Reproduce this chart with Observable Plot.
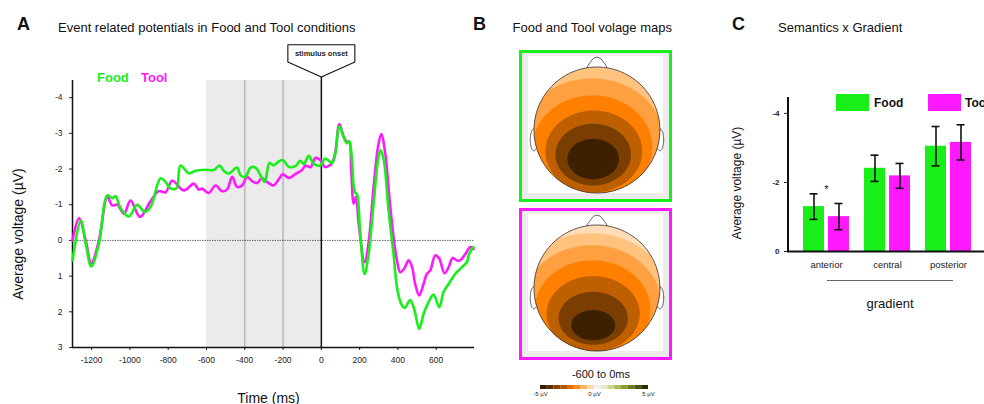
<!DOCTYPE html>
<html><head><meta charset="utf-8">
<script src="https://cdn.jsdelivr.net/npm/d3@7"></script>
<script src="https://cdn.jsdelivr.net/npm/@observablehq/plot@0.6"></script>
<style>
body{margin:0;background:#fff}
#root{position:relative;width:984px;height:404px;overflow:hidden;font-family:"Liberation Sans",Arial,Helvetica,sans-serif;color:#111;background:#fff}
</style></head>
<body><div id="root"></div>
<script>
// ---------------- DATA ----------------
const GREEN = "#18ee18", MAGENTA = "#ff19ff";
// Panel A : ERP waveforms (ms, µV)
const foodTime = [-1300,-1257,-1231,-1202,-1162,-1118,-1092,-1075,-1049,-1005,-962,-923,-892,-840,-814,-788,-757,-736,-692,-657,-605,-562,-532,-510,-484,-440,-423,-397,-370,-344,-318,-296,-271,-249,-231,-202,-170,-136,-110,-92,-66,-40,-5,17,30,56,73,94,116,134,146,160,174,186,203,226,247,273,296,310,326,351,377,395,417,435,464,487,511,534,560,586,616,638,665,699,734,760,772,795];
const foodVolt = [0.56,-0.56,0.09,0.73,0.09,-1.26,-1.18,-1.24,-0.90,-0.67,-1.00,-0.80,-0.94,-1.74,-1.64,-1.46,-1.46,-2.10,-1.88,-1.95,-1.98,-1.97,-2.10,-1.95,-1.87,-2.04,-1.83,-1.78,-2.04,-2.04,-1.83,-1.64,-2.17,-2.10,-2.18,-2.25,-2.06,-2.08,-2.23,-2.14,-2.37,-2.15,-2.10,-2.29,-2.27,-2.17,-2.43,-3.20,-2.90,-2.72,-2.78,-2.25,-1.36,-1.29,-0.19,0.94,0.37,-1.03,-2.25,-2.53,-2.25,-0.84,0.37,1.31,1.78,1.89,1.67,1.97,2.48,2.06,1.73,1.52,1.87,1.45,1.22,0.94,0.75,0.61,0.37,0.19];
const toolTime = [-1300,-1266,-1231,-1202,-1162,-1118,-1092,-1066,-1031,-997,-948,-892,-849,-814,-779,-718,-666,-640,-623,-588,-553,-518,-492,-466,-440,-414,-388,-362,-336,-310,-284,-249,-223,-202,-170,-136,-101,-83,-57,-31,-5,17,30,56,73,94,116,134,146,156,169,181,195,226,247,273,296,313,334,355,377,395,412,433,456,474,490,511,534,551,569,595,616,643,665,686,708,725,751,777,795];
const toolVolt = [0.0,-0.62,0.0,0.64,0.0,-1.22,-0.98,-1.00,-0.75,-1.12,-0.66,-1.10,-1.38,-1.35,-1.67,-1.40,-1.59,-1.42,-1.45,-1.33,-1.54,-1.38,-1.43,-1.78,-1.50,-1.54,-1.78,-1.66,-1.61,-1.74,-1.64,-1.54,-1.71,-1.85,-1.75,-1.86,-1.97,-2.10,-2.05,-2.31,-2.25,-2.06,-2.06,-2.17,-2.48,-3.26,-2.92,-2.76,-2.76,-1.97,-1.03,-1.22,-0.47,0.61,0.05,-1.50,-2.62,-2.98,-2.43,-1.22,-0.09,0.56,0.89,0.79,0.56,0.75,1.22,1.54,1.22,0.94,0.84,0.42,0.51,0.92,0.75,0.49,0.56,0.56,0.39,0.19,0.24];
const timeDomain = [-1300, 800];
const timeTicks = [-1200,-1000,-800,-600,-400,-200,0,200,400,600];
const voltDomain = [3, -4.48];
const voltTicks = [-4,-3,-2,-1,0,1,2,3];
const baselineWindow = [{start: -600, end: 0}];
const innerGrid = [-400, -200];
const onsetTime = 0;

// Panel B : topographic maps (head units; ellipse bands, outer -> inner)
const bandColors = ["#ffc27f", "#ffa040", "#ff8000", "#bf6000", "#7a3f00", "#3d2000"];
const headColor = "#ffdcb8";
const foodBands = [[-0.12,0.20,1.40,1.20],[-0.08,0.18,1.15,1.00],[-0.07,0.27,0.95,0.82],[-0.05,0.34,0.77,0.65],[-0.06,0.39,0.60,0.49],[-0.06,0.46,0.41,0.32]];
const toolBands = [[-0.10,0.23,1.30,1.10],[-0.08,0.27,1.10,0.95],[-0.07,0.34,0.92,0.78],[-0.06,0.41,0.74,0.60],[-0.06,0.48,0.55,0.42],[-0.06,0.59,0.35,0.24]];
const mapX = [-1.23, 1.2];
const mapY = [-1.262, 1.15];
const scaleColors = ["#3a1d00","#5c2e00","#8a4600","#b35a00","#e07000","#ff8c1a","#ffb366","#ffd9b3","#f2f2f2","#e6ebc7","#cdd68f","#b0b857","#8f9a2a","#6f7a16","#4d540b","#2a2e05"];
const scaleDomain = [-5, 5];
const scaleTicks = [-5, 0, 5];

// Panel C : Semantics x Gradient
const gradients = ["anterior", "central", "posterior"];
const foodMean = [-1.30, -2.41, -3.05];
const foodErr  = [0.37, 0.38, 0.57];
const toolMean = [-1.01, -2.19, -3.16];
const toolErr  = [0.38, 0.36, 0.51];
const significant = ["anterior"];
const cDomain = [0, -4.46];
const cTicks = [-4, -2, 0];

// ---------------- HELPERS ----------------
const FONT = '"Liberation Sans", Arial, Helvetica, sans-serif';
const root = document.getElementById("root");
function place(node, left, top) {
  const w = document.createElement("div");
  w.style.cssText = `position:absolute;left:${left}px;top:${top}px;`;
  w.appendChild(node); root.appendChild(w);
}
function label(text, x, y, {size = 13, weight = "normal", color = "#111", anchor = "start", rotate = 0} = {}) {
  const d = document.createElement("div");
  d.textContent = text;
  const tx = anchor === "middle" ? "-50%" : anchor === "end" ? "-100%" : "0";
  d.style.cssText = `position:absolute;left:${x}px;top:${y}px;font-size:${size}px;font-weight:${weight};color:${color};white-space:nowrap;line-height:1;transform:translate(${tx},-50%) rotate(${rotate}deg);`;
  root.appendChild(d);
}
const baseStyle = {fontFamily: FONT, background: "transparent", overflow: "visible", maxWidth: "none", color: "#222"};

// ---------------- PANEL A ----------------
const foodERP = foodTime.map((t, i) => ({t, v: foodVolt[i]}));
const toolERP = toolTime.map((t, i) => ({t, v: toolVolt[i]}));
const calloutTip = -4.58, calloutShoulder = -5.0, calloutTop = -5.48, calloutHalf = 175;
const callout = [
  {t: onsetTime - calloutHalf, v: calloutTop}, {t: onsetTime + calloutHalf, v: calloutTop},
  {t: onsetTime + calloutHalf, v: calloutShoulder}, {t: onsetTime, v: calloutTip},
  {t: onsetTime - calloutHalf, v: calloutShoulder}, {t: onsetTime - calloutHalf, v: calloutTop}
];
const A = Plot.plot({
  width: 490, height: 404, marginLeft: 72, marginRight: 16, marginTop: 80, marginBottom: 57,
  style: {...baseStyle, fontSize: "8.5px"},
  x: {domain: timeDomain, ticks: timeTicks, tickSize: 3, tickPadding: 6, tickFormat: d => String(d), label: null},
  y: {domain: voltDomain, ticks: voltTicks, tickSize: 3, tickPadding: 7, tickFormat: d => String(d), label: null},
  marks: [
    Plot.rect(baselineWindow, {x1: "start", x2: "end", y1: voltDomain[0], y2: voltDomain[1], fill: "#ebebeb"}),
    Plot.ruleX(innerGrid, {y1: voltDomain[0], y2: voltDomain[1], stroke: "#b8b8b8", strokeWidth: 1.5}),
    Plot.ruleY([0], {stroke: "#444", strokeWidth: 0.8, strokeDasharray: "1.5,1"}),
    Plot.ruleX([onsetTime], {y1: voltDomain[0], y2: calloutTip, stroke: "#111", strokeWidth: 1.5}),
    Plot.ruleX([timeDomain[0]], {y1: voltDomain[0], y2: voltDomain[1], stroke: "#111", strokeWidth: 1.5}),
    Plot.ruleY([voltDomain[0]], {stroke: "#111", strokeWidth: 1.5}),
    Plot.line(toolERP, {x: "t", y: "v", stroke: MAGENTA, strokeWidth: 2.6, curve: "catmull-rom"}),
    Plot.line(foodERP, {x: "t", y: "v", stroke: GREEN, strokeWidth: 2.6, curve: "catmull-rom"}),
    Plot.line(callout, {x: "t", y: "v", fill: "white", stroke: "#111", strokeWidth: 1.1}),
    Plot.text([{t: onsetTime, v: (calloutTop + calloutShoulder) / 2, s: "stimulus onset"}], {x: "t", y: "v", text: "s", fontSize: 7.5, fontWeight: "bold", fill: "#222"})
  ]
});
place(A, 0, 0);

// ---------------- PANEL B ----------------
function bandPolygon(id, [cx, cy, rx, ry], color) {
  const pts = [], N = 120;
  for (let k = 0; k <= N; k++) {
    const th = 2 * Math.PI * k / N, dx = Math.cos(th), dy = Math.sin(th);
    const te = 1 / Math.sqrt((dx / rx) ** 2 + (dy / ry) ** 2);
    const cd = cx * dx + cy * dy;
    const tc = -cd + Math.sqrt(cd * cd - (cx * cx + cy * cy) + 1);
    const t = Math.min(te, tc);
    pts.push({id, x: cx + t * dx, y: cy + t * dy, color});
  }
  return pts;
}
function ellipse(id, cx, cy, rx, ry) {
  const pts = [];
  for (let k = 0; k <= 90; k++) { const th = 2 * Math.PI * k / 90; pts.push({id, x: cx + rx * Math.cos(th), y: cy + ry * Math.sin(th)}); }
  return pts;
}
const noseShape = [[-0.17,-0.98],[-0.11,-1.07],[-0.05,-1.14],[0,-1.155],[0.05,-1.14],[0.11,-1.07],[0.17,-0.98]].map(([x, y]) => ({x, y}));
function topo(bands, frameColor) {
  const fills = [ ...ellipse("head", 0, 0, 1, 1).map(p => ({...p, color: headColor})) ];
  bands.forEach((b, i) => fills.push(...bandPolygon("b" + i, b, bandColors[i])));
  const ears = [...ellipse("L", -1.0, 0.155, 0.06, 0.175), ...ellipse("R", 1.0, 0.155, 0.06, 0.175)];
  return Plot.plot({
    width: 190, height: 152, marginLeft: 19, marginRight: 18, marginTop: 0, marginBottom: 0,
    style: baseStyle,
    x: {domain: mapX, axis: null}, y: {domain: mapY, reverse: true, axis: null},
    color: {type: "identity"},
    marks: [
      Plot.rect([frameColor], {x1: mapX[0], x2: mapX[1], y1: mapY[0], y2: mapY[1], fill: "#ececec", stroke: frameColor, strokeWidth: 3, inset: 1.5}),
      Plot.rect([frameColor], {x1: mapX[0], x2: mapX[1], y1: mapY[0], y2: mapY[1], fill: "white", insetLeft: 9, insetRight: 9, insetTop: 6, insetBottom: 9}),
      Plot.line(ears, {x: "x", y: "y", z: "id", fill: "white", stroke: "#333", strokeWidth: 0.8}),
      Plot.line(noseShape, {x: "x", y: "y", fill: "white", stroke: "#333", strokeWidth: 0.8, curve: "catmull-rom"}),
      Plot.line(fills, {x: "x", y: "y", z: "id", fill: "color", stroke: "none"}),
      Plot.line(ellipse("outline", 0, 0, 1, 1), {x: "x", y: "y", stroke: "#333", strokeWidth: 0.8})
    ]
  });
}
place(topo(foodBands, GREEN), 500, 50);
place(topo(toolBands, MAGENTA), 500, 207.5);
const cells = scaleColors.map((c, i) => ({
  a: scaleDomain[0] + i * (scaleDomain[1] - scaleDomain[0]) / scaleColors.length,
  b: scaleDomain[0] + (i + 1) * (scaleDomain[1] - scaleDomain[0]) / scaleColors.length, c}));
const CB = Plot.plot({
  width: 130, height: 26, marginLeft: 10, marginRight: 12, marginTop: 7, marginBottom: 15,
  style: {...baseStyle, fontSize: "6px"},
  x: {domain: scaleDomain, ticks: scaleTicks, tickSize: 0, tickPadding: 2, tickFormat: d => `${d} µV`, label: null},
  y: {axis: null, domain: [0, 1]},
  color: {type: "identity"},
  marks: [Plot.rect(cells, {x1: "a", x2: "b", y1: 0, y2: 1, fill: "c"})]
});
place(CB, 530, 378);

// ---------------- PANEL C ----------------
const foodRows = gradients.map((g, i) => ({g, m: foodMean[i], e: foodErr[i]}));
const toolRows = gradients.map((g, i) => ({g, m: toolMean[i], e: toolErr[i]}));
const sigRows = significant.map(g => { const i = gradients.indexOf(g); return {g, y: Math.min(foodMean[i] - foodErr[i], toolMean[i] - toolErr[i]), s: "*"}; });
const cPad = 0.242, cWidth = 300, cLeft = 87, cRight = 12;
const cStep = (cWidth - cLeft - cRight) / (gradients.length - cPad + 2 * cPad);
const cBand = cStep * (1 - cPad);
const barW = 22, barGap = cBand - 2 * barW;
const capHalf = 4.5;
const foodCenter = barW / 2, toolCenter = cBand - barW / 2;
const errMarks = (rows, center, dx) => [
  Plot.ruleX(rows, {x: "g", y1: d => d.m - d.e, y2: d => d.m + d.e, dx, stroke: "#111", strokeWidth: 1.6}),
  Plot.tickY(rows, {x: "g", y: d => d.m - d.e, insetLeft: center - capHalf, insetRight: cBand - center - capHalf, stroke: "#111", strokeWidth: 1.6}),
  Plot.tickY(rows, {x: "g", y: d => d.m + d.e, insetLeft: center - capHalf, insetRight: cBand - center - capHalf, stroke: "#111", strokeWidth: 1.6})
];
const C = Plot.plot({
  width: cWidth, height: 320, marginLeft: cLeft, marginRight: cRight, marginTop: 97, marginBottom: 69,
  style: {...baseStyle, fontSize: "9.5px"},
  x: {domain: gradients, padding: cPad, tickSize: 0, tickPadding: 10, label: null},
  y: {domain: cDomain, ticks: cTicks, tickSize: 3, tickPadding: 5, tickFormat: d => String(d), label: null},
  marks: [
    Plot.barY(foodRows, {x: "g", y: "m", fill: GREEN, insetRight: cBand - barW}),
    Plot.barY(toolRows, {x: "g", y: "m", fill: MAGENTA, insetLeft: cBand - barW}),
    Plot.ruleY([0], {stroke: "#111", strokeWidth: 2}),
    Plot.ruleX([gradients[0]], {x: d => d, dx: -(cStep * cPad + cBand / 2), y1: cDomain[0], y2: cDomain[1], stroke: "#111", strokeWidth: 2}),
    ...errMarks(foodRows, foodCenter, foodCenter - cBand / 2),
    ...errMarks(toolRows, toolCenter, toolCenter - cBand / 2),
    Plot.text(sigRows, {x: "g", y: "y", text: "s", dy: -4, fontSize: 11, fill: "#111"})
  ]
});
C.querySelectorAll('g[aria-label^="y-axis"] text').forEach(t => { t.style.fontSize = "8px"; t.style.fontWeight = "bold"; });
place(C, 700, 0);

// ---------------- TEXT ----------------
label("A", 17, 24, {size: 18, weight: "bold"});
label("Event related potentials in Food and Tool conditions", 58, 27, {size: 13});
label("Food", 97, 77, {size: 13, weight: "bold", color: GREEN});
label("Tool", 141, 77, {size: 13, weight: "bold", color: MAGENTA});
label("Average voltage (µV)", 18, 234, {size: 14, anchor: "middle", rotate: -90});
label("Time (ms)", 268.5, 398, {size: 14, anchor: "middle"});
label("B", 473, 24, {size: 18, weight: "bold"});
label("Food and Tool volage maps", 512.5, 27, {size: 13});
label("-600 to 0ms", 601, 374, {size: 11, anchor: "middle"});
label("C", 732, 24, {size: 18, weight: "bold"});
label("Semantics x Gradient", 778, 27, {size: 13});
label("Average voltage (µV)", 737, 183, {size: 12, anchor: "middle", rotate: -90});
label("gradient", 890, 303, {size: 13, anchor: "middle"});
const sep = document.createElement("div");
sep.style.cssText = "position:absolute;left:827px;top:280px;width:126px;height:0;border-top:1px solid #666;";
root.appendChild(sep);
function swatch(x, color) { const s = document.createElement("div"); s.style.cssText = `position:absolute;left:${x}px;top:94px;width:33px;height:17px;background:${color};`; root.appendChild(s); }
swatch(836, GREEN); label("Food", 874, 103, {size: 12, weight: "bold"});
swatch(928, MAGENTA); label("Tool", 965, 103, {size: 12, weight: "bold"});
</script>
</body></html>
